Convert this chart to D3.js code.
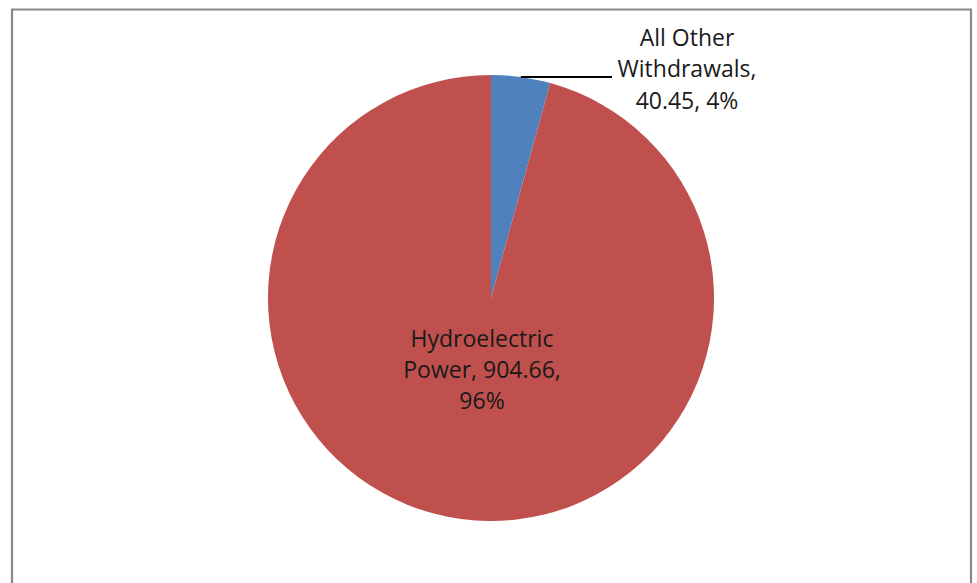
<!DOCTYPE html>
<html>
<head>
<meta charset="utf-8">
<script src="https://cdn.jsdelivr.net/npm/d3@7"></script>
<style>
html,body{margin:0;padding:0;background:#fff;}
svg{display:block;}
</style>
</head>
<body>
<svg id="chart" width="977" height="583"></svg>
<script>
const categories = ["All Other Withdrawals", "Hydroelectric Power"];
const values = [40.45, 904.66];
const percentLabels = ["4%", "96%"];
const colors = ["#4F81BD", "#C0504D"];

const svg = d3.select("#chart");
const W = 977, H = 583;

// frame
svg.append("path")
  .attr("d", `M12,${H+2} L12,9.5 L971,9.5 L971,${H+2}`)
  .attr("fill", "none").attr("stroke", "#888").attr("stroke-width", 2.2);

const cx = 491, cy = 298, r = 223;
const g = svg.append("g").attr("transform", `translate(${cx},${cy})`);

const pie = d3.pie().sort(null).value(d => d)(values);
const arc = d3.arc().innerRadius(0).outerRadius(r);

g.selectAll("path.slice").data(pie).enter().append("path")
  .attr("class", "slice")
  .attr("d", arc)
  .attr("fill", (d, i) => colors[i]);

const font = "'Open Sans', sans-serif";
const fs = 23;

// leader line starts on arc and runs horizontally to the label
const lineY = -221;
const startX = Math.sqrt(r * r - lineY * lineY);
g.append("line")
  .attr("x1", startX).attr("y1", lineY)
  .attr("x2", 121).attr("y2", lineY)
  .attr("stroke", "#000").attr("stroke-width", 2);

const fmt = v => d3.format(".2f")(v);
const smallLines = ["All Other", "Withdrawals,", `${fmt(values[0])}, ${percentLabels[0]}`];
const t1 = g.append("text")
  .attr("font-family", font).attr("font-size", fs).attr("fill", "#1a1a1a")
  .attr("text-anchor", "middle");
smallLines.forEach((s, i) => {
  t1.append("tspan").attr("x", 196).attr("y", -252.5 + i * 31.7).text(s);
});

const bigLines = ["Hydroelectric", `Power, ${fmt(values[1])},`, percentLabels[1]];
const t2 = g.append("text")
  .attr("font-family", font).attr("font-size", fs).attr("fill", "#1a1a1a")
  .attr("text-anchor", "middle");
bigLines.forEach((s, i) => {
  t2.append("tspan").attr("x", -9).attr("y", 49 + i * 31).text(s);
});
</script>
</body>
</html>
